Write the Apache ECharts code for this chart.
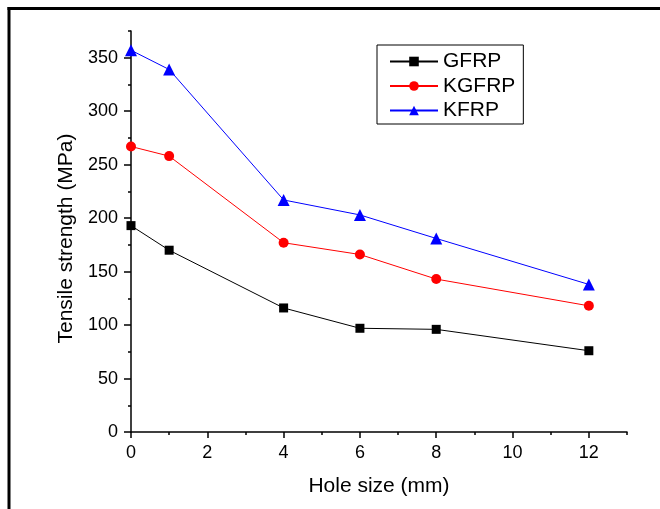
<!DOCTYPE html>
<html>
<head>
<meta charset="utf-8">
<script src="https://cdn.jsdelivr.net/npm/echarts@6/dist/echarts.min.js"></script>
<style>
  html, body { margin: 0; padding: 0; background: #fff; }
  #chart { width: 660px; height: 509px; }
</style>
</head>
<body>
<div id="chart"></div>
<script>
// hole sizes (mm) and tensile strengths (MPa)
const holeSizes = [0, 1, 4, 6, 8, 12]
const gfrp = [193, 170, 116, 97, 96, 76]
const kgfrp = [267, 258, 177, 166, 143, 118]
const kfrp = [357, 339, 217, 203, 181, 138]

const xMajor = [0, 2, 4, 6, 8, 10, 12]
const yMajor = [0, 50, 100, 150, 200, 250, 300, 350]

const font = '"Liberation Sans", Arial, sans-serif'
const pairs = ys => holeSizes.map((x, i) => [x, ys[i]])

const chart = echarts.init(document.getElementById('chart'))

function lineSeries(name, ys, color, symbol, size) {
  return {
    name, type: 'line', data: pairs(ys),
    symbol, symbolSize: size,
    lineStyle: { color, width: 1 },
    itemStyle: { color },
    emphasis: { disabled: true },
  }
}

chart.setOption({
  animation: false,
  textStyle: { fontFamily: font, color: '#000' },
  grid: { left: 131, right: 33, top: 31, bottom: 77 },
  legend: {
    orient: 'vertical',
    left: 377, top: 45,
    padding: [6, 8, 3, 12],
    itemGap: 3.5,
    itemWidth: 48, itemHeight: 12,
    borderColor: '#000', borderWidth: 1,
    textStyle: { fontSize: 21, lineHeight: 21, color: '#000', fontFamily: font },
    data: ['GFRP', 'KGFRP', 'KFRP'],
  },
  xAxis: [
    {
      type: 'value', min: 0, max: 13, interval: 1,
      name: 'Hole size (mm)', nameLocation: 'middle', nameGap: 44,
      nameTextStyle: { fontSize: 21, color: '#000', fontFamily: font },
      axisLine: { lineStyle: { color: '#000', width: 1.5 } },
      axisTick: { customValues: xMajor, length: 6, lineStyle: { color: '#000', width: 1.5 } },
      axisLabel: { customValues: xMajor, fontSize: 18, color: '#000', margin: 12 },
      splitLine: { show: false },
    },
    {
      type: 'value', min: 0, max: 13, interval: 1, position: 'bottom',
      axisLine: { show: false },
      axisTick: { length: 3, lineStyle: { color: '#000', width: 1.5 } },
      axisLabel: { show: false },
      splitLine: { show: false },
    },
  ],
  yAxis: [
    {
      type: 'value', min: 0, max: 375, interval: 25,
      name: 'Tensile strength (MPa)', nameLocation: 'middle', nameGap: 53,
      nameTextStyle: { fontSize: 21, color: '#000', fontFamily: font, padding: [0, 14, 0, 0] },
      axisLine: { show: true, lineStyle: { color: '#000', width: 1.5 } },
      axisTick: { show: true, customValues: yMajor, length: 7, lineStyle: { color: '#000', width: 1.5 } },
      axisLabel: { customValues: yMajor, fontSize: 18, color: '#000', margin: 13 },
      splitLine: { show: false },
    },
    {
      type: 'value', min: 0, max: 375, interval: 25, position: 'left',
      axisLine: { show: false },
      axisTick: { show: true, length: 3, lineStyle: { color: '#000', width: 1.5 } },
      axisLabel: { show: false },
      splitLine: { show: false },
    },
  ],
  graphic: [
    {
      type: 'line', silent: true,
      shape: { x1: 7.5, y1: 8.5, x2: 700, y2: 8.5 },
      style: { stroke: '#000', lineWidth: 3 },
    },
    {
      type: 'line', silent: true,
      shape: { x1: 9, y1: 7, x2: 9, y2: 600 },
      style: { stroke: '#000', lineWidth: 3 },
    },
  ],
  series: [
    lineSeries('GFRP', gfrp, '#000000', 'rect', 9),
    lineSeries('KGFRP', kgfrp, '#ff0000', 'circle', 10),
    lineSeries('KFRP', kfrp, '#0000ff', 'triangle', 12),
  ],
})
</script>
</body>
</html>
